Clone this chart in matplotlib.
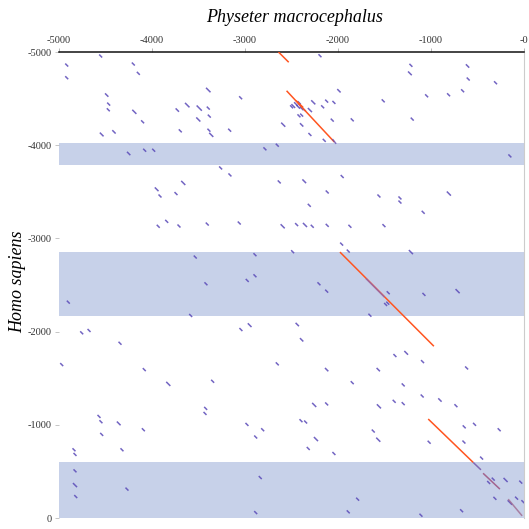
import matplotlib
matplotlib.use("Agg")
import matplotlib.pyplot as plt
from matplotlib.collections import LineCollection

plt.rcParams['axes.unicode_minus'] = False

# Axis ticks and labels
x_ticks = [-5000, -4000, -3000, -2000, -1000, 0]
x_tick_labels = ['-5000', '-4000', '-3000', '-2000', '-1000', '-0']
y_ticks = [-5000, -4000, -3000, -2000, -1000, 0]
y_tick_labels = ['-5000', '-4000', '-3000', '-2000', '-1000', '0']

# Shaded bands (Homo sapiens coordinate ranges)
band_start = [-4025, -2850, -605]
band_end = [-3790, -2170, 0]

# Short match segments: centre x, centre y, length
seg_x = [-4552, -4917, -4201, -4147, -4917, -3395, -3047, -4487, -4466, -4470,
         -4190, -3621, -3728, -3492, -3395, -3502, -3384, -4101, -4541, -4409,
         -3696, -3388, -3363, -3165, -4251, -4079, -3982, -2786, -3262, -3162,
         -3664, -3950, -3914, -3742, -2194, -1216, -1227, -607, -600, -306,
         -660, -811, -1047, -1514, -1202, -1990, -2266, -2122, -2044, -2165,
         -2302, -2062, -1847, -2589, -2391, -2302, -2148, -2420, -2391,
         -2481, -2452, -2428, -2409, -2391, -2366, -2499, -2417,
         -2653, -152, -1955, -2632, -2363, -2116, -1560, -1334, -1334, -808, -2309,
         -3933, -3842, -3710, -3406, -3062, -3535, -2893, -3420, -2976, -2893,
         -4900, -3584, -4756, -4677, -4344, -3044, -2950, -4971, -4083, -1084,
         -2595, -2445, -2355, -2277, -2116, -1872, -1506, -1961, -2488, -1890,
         -1216, -2205, -2122, -1460, -1076, -714, -1488, -1465, -1657, -2438,
         -2391, -2653, -2122, -1567, -1388, -1267, -1091, -617,
         -3825, -3348, -4570, -4549, -4358, -4093, -3423, -3430, -2979, -2810,
         -2885, -4541, -4839, -4828, -4323, -4828, -4828, -4820, -4269, -2836,
         -2885, -1847, -1299, -1095, -904, -732, -2256, -2122, -1560, -1396,
         -1299, -2398, -2348, -1621, -1567, -2237, -2320, -2044, -1020, -643,
         -532, -267, -646, -456, -1789, -1890, -1108, -671, -380, -331,
         -198, -35, -313, -152, -80, -12]
seg_y = [-4957, -4860, -4871, -4771, -4724, -4592, -4509, -4538, -4441, -4380,
         -4358, -4430, -4377, -4398, -4398, -4276, -4312, -4251, -4115, -4143,
         -4154, -4161, -4111, -4161, -3911, -3946, -3946, -3961, -3756, -3681,
         -3595, -3527, -3455, -3481, -4960, -4857, -4771, -4850, -4710, -4670,
         -4584, -4541, -4530, -4476, -4280, -4584, -4460, -4473, -4459, -4412,
         -4377, -4269, -4272, -4220, -4218, -4115, -4052, -4315, -4323,
         -4420, -4441, -4412, -4430, -4395, -4384, -4412, -4455,
         -4000, -3885, -3664, -3606, -3613, -3498, -3455, -3434, -3390, -3481, -3355,
         -3130, -3183, -3133, -3154, -3165, -2800, -2825, -2513, -2549, -2599,
         -2316, -2173, -1987, -2012, -1875, -2022, -2069, -1646, -1592, -3280,
         -3130, -3148, -3144, -3130, -3140, -3130, -3137, -2939, -2857, -2864,
         -2853, -2513, -2434, -2417, -2399, -2434, -2291, -2305, -2176, -2076,
         -1912, -1654, -1592, -1592, -1743, -1772, -1678, -1610,
         -1439, -1467, -1090, -1033, -1015, -947, -1176, -1122, -1004, -947,
         -869, -897, -732, -682, -732, -506, -353, -230, -310, -434,
         -58, -1452, -1428, -1309, -1266, -1205, -1213, -1224, -1198, -1252,
         -1227, -1044, -1030, -933, -840, -847, -746, -692, -813, -978,
         -1005, -947, -815, -643, -202, -66, -30, -78, -381, -417,
         -408, -385, -211, -166, -213, -175]
seg_len = [32, 32, 32, 32, 32, 48, 32, 36, 32, 32,
           44, 48, 36, 56, 32, 44, 32, 32, 40, 36,
           32, 32, 44, 32, 36, 32, 32, 32, 32, 32,
           44, 40, 32, 32, 32, 32, 40, 36, 32, 32,
           32, 32, 32, 32, 32, 36, 44, 32, 32, 32,
           44, 32, 32, 44, 36, 32, 32, 32, 32,
           40, 40, 40, 40, 40, 40, 32, 32,
           32, 32, 32, 32, 40, 32, 32, 32, 32, 44, 32,
           32, 32, 32, 32, 32, 32, 32, 32, 32, 32,
           32, 32, 32, 32, 32, 32, 40, 32, 32, 32,
           44, 32, 44, 32, 32, 32, 32, 32, 32, 32,
           44, 32, 32, 32, 32, 44, 32, 32, 32, 36,
           36, 32, 36, 36, 32, 40, 32, 32,
           44, 32, 32, 32, 40, 32, 32, 32, 32, 32,
           32, 32, 32, 32, 32, 32, 44, 32, 32, 32,
           32, 32, 32, 32, 36, 32, 44, 32, 44, 32,
           32, 32, 32, 32, 44, 44, 32, 32, 32, 32,
           32, 32, 32, 32, 32, 32, 32, 32, 32, 32,
           44, 32, 32, 48, 32, 32]

# Long main-diagonal alignments (red): x0, y0, x1, y1
red_x0 = [-2640, -2553, -1979, -1030, -2450]
red_y0 = [-5000, -4584, -2853, -1062, -4478]
red_x1 = [-2530, -2040, -969, -546, -2375]
red_y1 = [-4890, -4035, -1843, -596, -4405]

# Long diagonal alignments (mauve / purple): x0, y0, x1, y1
long_x0 = [-2060, -546, -440, -170, -1700]
long_y0 = [-4065, -596, -480, -202, -2570]
long_x1 = [-2020, -463, -259, -20, -1500]
long_y1 = [-4015, -517, -310, -23, -2370]
long_col = ['#6a4fb0', '#7050a8', '#9a4a78', '#a06a90', '#8a6ab8']

fig = plt.figure(figsize=(5.29, 5.29), dpi=100)
ax = fig.add_axes([59 / 529, 1 - 518 / 529, (524 - 59) / 529, (518 - 52) / 529])

ax.set_xlim(-5000, 0)
ax.set_ylim(0, -5000)

for s, e in zip(band_start, band_end):
    ax.axhspan(s, e, color='#c7d1e9', lw=0, zorder=0)

segs = [[(x - l / 2, y - l / 2), (x + l / 2, y + l / 2)]
        for x, y, l in zip(seg_x, seg_y, seg_len)]
ax.add_collection(LineCollection(segs, colors='#5a4ab8', linewidths=1.1,
                                 alpha=0.85, zorder=2, capstyle='butt'))

red_segs = [[(a, b), (c, d)] for a, b, c, d in zip(red_x0, red_y0, red_x1, red_y1)]
ax.add_collection(LineCollection(red_segs, colors='#ff5520', linewidths=1.1,
                                 zorder=3, capstyle='butt'))

long_segs = [[(a, b), (c, d)] for a, b, c, d in zip(long_x0, long_y0, long_x1, long_y1)]
ax.add_collection(LineCollection(long_segs, colors=long_col, linewidths=1.1,
                                 alpha=0.8, zorder=4, capstyle='butt'))

ax.xaxis.tick_top()
ax.set_xticks(x_ticks)
ax.set_xticklabels(x_tick_labels)
ax.set_yticks(y_ticks)
ax.set_yticklabels(y_tick_labels)
for lab in ax.get_xticklabels() + ax.get_yticklabels():
    lab.set_fontfamily('Liberation Serif')
    lab.set_fontsize(7.5)
    lab.set_color('#333333')
ax.tick_params(axis='x', which='both', length=3, width=0.6, color='#aaaaaa', pad=2,
               direction='out', top=True, bottom=False)
ax.tick_params(axis='y', which='both', length=3, width=0.6, color='#bbbbbb', pad=2)

for side in ['left', 'bottom']:
    ax.spines[side].set_visible(False)
ax.spines['top'].set_color('#111111')
ax.spines['top'].set_linewidth(1.1)
ax.spines['right'].set_color('#cccccc')
ax.spines['right'].set_linewidth(0.8)

fig.text(295 / 529, 1 - 17 / 529, 'Physeter macrocephalus', ha='center', va='center',
         fontfamily='Liberation Serif', fontstyle='italic', fontsize=13)
fig.text(18 / 529, 1 - 282 / 529, 'Homo sapiens', ha='center', va='center',
         rotation=90, fontfamily='Liberation Serif', fontstyle='italic', fontsize=13)

fig.savefig('out.png', dpi=100)
